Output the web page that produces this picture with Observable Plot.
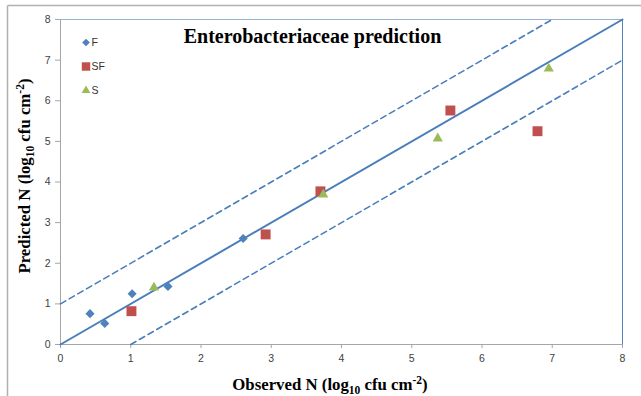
<!DOCTYPE html>
<html><head><meta charset="utf-8">
<script src="https://cdn.jsdelivr.net/npm/d3@7"></script>
<script src="https://cdn.jsdelivr.net/npm/@observablehq/plot@0.6"></script>
<style>body{margin:0;background:#fff;overflow:hidden}</style>
</head><body><div id="chart"></div>
<script>
// ---- data ----
const seriesNames = ["F", "SF", "S"];
const fObserved  = [0.42, 0.63, 1.02, 1.53, 2.60];
const fPredicted = [0.76, 0.52, 1.25, 1.43, 2.61];
const sfObserved  = [1.01, 2.92, 3.70, 5.55, 6.79];
const sfPredicted = [0.82, 2.71, 3.77, 5.76, 5.25];
const sObserved  = [1.33, 3.74, 5.37, 6.95];
const sPredicted = [1.40, 3.69, 5.07, 6.79];
const xTicks = [0, 1, 2, 3, 4, 5, 6, 7, 8];
const yTicks = [0, 1, 2, 3, 4, 5, 6, 7, 8];
const identityLine = {x: [0, 8], y: [0, 8]};
const upperLine = {x: [0, 7], y: [1, 8]};
const lowerLine = {x: [1, 8], y: [0, 7]};
const titleText = "Enterobacteriaceae prediction";

// ---- styles ----
const colors = {F: "#4f81bd", SF: "#c0504d", S: "#9bbb59"};
const symbols = {F: "diamond2", SF: "square", S: "triangle"};
const radii = {F: 4.1, SF: 5.6, S: 3.8};
const lineColor = "#4a7ebb";

const toRows = (xs, ys) => xs.map((x, i) => ({x, y: ys[i]}));
const pointData = {
  F: toRows(fObserved, fPredicted),
  SF: toRows(sfObserved, sfPredicted),
  S: toRows(sObserved, sPredicted)
};

const marks = [
  Plot.ruleY([8], {stroke: "#95b3d7", strokeWidth: 1}),
  Plot.ruleX([8], {stroke: "#4f81bd", strokeWidth: 1}),
  Plot.ruleX([0], {stroke: "#a6a6a6", strokeWidth: 1}),
  Plot.ruleY([0], {stroke: "#a6a6a6", strokeWidth: 1}),
  Plot.axisX({ticks: xTicks, tickSize: 4, tickPadding: 6, stroke: "#a6a6a6", fill: "#404040", label: null, fontSize: 10.5, tickFormat: d => d}),
  Plot.axisY({ticks: yTicks, tickSize: 5, tickPadding: 5, stroke: "#a6a6a6", fill: "#404040", label: null, fontSize: 10.5, tickFormat: d => d}),
  Plot.line(toRows(upperLine.x, upperLine.y), {x: "x", y: "y", stroke: lineColor, strokeWidth: 1.6, strokeDasharray: "6,4"}),
  Plot.line(toRows(lowerLine.x, lowerLine.y), {x: "x", y: "y", stroke: lineColor, strokeWidth: 1.6, strokeDasharray: "6,4"}),
  Plot.line(toRows(identityLine.x, identityLine.y), {x: "x", y: "y", stroke: lineColor, strokeWidth: 2})
];
for (const s of seriesNames) {
  marks.push(Plot.dot(pointData[s], {x: "x", y: "y", symbol: () => symbols[s], fill: colors[s], r: radii[s], stroke: "none"}));
}
// legend inside plot
seriesNames.forEach((s, i) => {
  marks.push(Plot.dot([s], {frameAnchor: "top-left", dx: 25.5, dy: 23 + 24 * i, symbol: () => symbols[s], fill: colors[s], r: radii[s] * 0.85, stroke: "none"}));
  marks.push(Plot.text([s], {frameAnchor: "top-left", dx: 31, dy: 23 + 24 * i, text: d => d, textAnchor: "start", lineAnchor: "middle", fill: "#333", fontSize: 10.5}));
});
// title
marks.push(Plot.text([titleText], {frameAnchor: "top", dx: -29, dy: 17, text: d => d, lineAnchor: "middle", fontSize: 20, fontWeight: "bold", fontFamily: "Liberation Serif", fill: "#000"}));

const chart = Plot.plot({
  width: 641,
  height: 396,
  marginLeft: 60,
  marginRight: 19,
  marginTop: 19,
  marginBottom: 52,
  style: {fontFamily: "Liberation Sans, Arial, sans-serif", background: "#fff", overflow: "visible"},
  x: {domain: [0, 8]},
  y: {domain: [0, 8]},
  symbol: {type: "identity"},
  marks
});
document.getElementById("chart").appendChild(chart);

const svg = d3.select(chart);
// outer frame (top and left edge visible)
svg.append("line").attr("x1", 7.5).attr("x2", 641).attr("y1", 5.5).attr("y2", 5.5).attr("stroke", "#b0b0b0").attr("stroke-width", 1.5);
svg.append("line").attr("x1", 7.5).attr("x2", 7.5).attr("y1", 5.5).attr("y2", 396).attr("stroke", "#b0b0b0").attr("stroke-width", 1.5);

function axisLabel(g) {
  g.attr("font-family", "Liberation Serif, serif").attr("font-weight", "bold").attr("font-size", 16.8).attr("fill", "#000").attr("text-anchor", "middle");
  g.append("tspan").text(g.attr("data-word") + " N (log");
  g.append("tspan").attr("font-size", 11.5).attr("dy", 4).text("10");
  g.append("tspan").attr("dy", -4).text(" cfu cm");
  g.append("tspan").attr("font-size", 11.5).attr("dy", -6).text("-2");
  g.append("tspan").attr("dy", 6).text(")");
}
svg.append("text").attr("data-word", "Observed").attr("x", 330).attr("y", 390).call(axisLabel);
svg.append("text").attr("data-word", "Predicted").attr("transform", "translate(30,176) rotate(-90)").call(axisLabel);
</script>
</body></html>
